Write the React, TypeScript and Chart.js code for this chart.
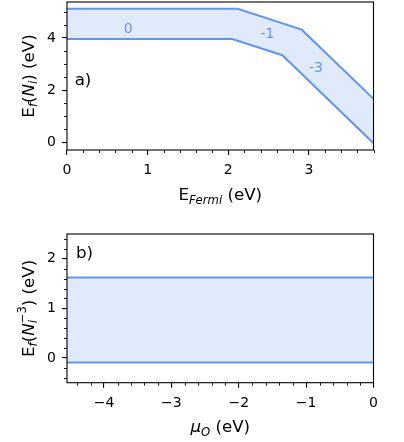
import React, { useEffect, useRef } from 'react';
import { Chart, registerables } from 'chart.js';

Chart.register(...registerables);

// ---------- Panel a) data ----------
const fermiUpper = [0, 2.115, 2.91, 3.8];
const formationUpper = [5.12, 5.12, 4.32, 1.67];
const fermiLower = [0, 2.05, 2.67, 3.8];
const formationLower = [3.96, 3.96, 3.34, -0.03];
const chargeLabels = ['0', '-1', '-3'];
const chargeLabelFermi = [0.76, 2.485, 3.086];
const chargeLabelEnergy = [4.37, 4.21, 2.88];
const fermiLimits = [0, 3.8];
const formationLimitsA = [-0.29, 5.38];
const fermiMajorTicks = [0, 1, 2, 3];
const formationMajorTicksA = [0, 2, 4];

// ---------- Panel b) data ----------
const muO = [-4.55, 0];
const formationTopB = [1.62, 1.62];
const formationBottomB = [-0.09, -0.09];
const muLimits = [-4.55, 0];
const formationLimitsB = [-0.5, 2.5];
const muMajorTicks = [-4, -3, -2, -1, 0];
const formationMajorTicksB = [0, 1, 2];

const W = 404;
const FONT = '"DejaVu Sans", "Liberation Sans", sans-serif';
const LINE = '#6495ED';
const FILL = 'rgba(100,149,237,0.2)';
const TITLE_SIZE = 16.67;
const TICK_SIZE = 14;

type Run = { t: string; it?: boolean; pos?: 'sub' | 'sup'; noAdv?: boolean };

interface Spec {
  height: number;
  area: { left: number; right: number; top: number; bottom: number };
  xLim: number[];
  yLim: number[];
  xTicks: number[];
  yTicks: number[];
  xMinorStep: number;
  yMinorStep: number;
  datasets: any[];
  xTitle: Run[];
  yTitle: Run[];
  xTitleBaseline: number;
  yTitleBaseline: number;
  letter: string;
  letterPos: number[]; // fractions of chart area (x from left, y from top)
  annotations?: { text: string; x: number; y: number }[];
}

const fmt = (v: number) => String(v).replace('-', '\u2212');

function runFont(r: Run) {
  const size = r.pos ? TITLE_SIZE * 0.7 : TITLE_SIZE;
  return `${r.it ? 'italic ' : ''}${size}px ${FONT}`;
}

function drawRuns(ctx: CanvasRenderingContext2D, runs: Run[]) {
  // draws centred at (0,0) with alphabetic baseline at y = 0
  let total = 0;
  const widths: number[] = [];
  for (const r of runs) {
    ctx.font = runFont(r);
    const w = ctx.measureText(r.t).width;
    widths.push(w);
    if (!r.noAdv) total += w;
  }
  let x = -total / 2;
  ctx.textAlign = 'left';
  ctx.textBaseline = 'alphabetic';
  runs.forEach((r, i) => {
    ctx.font = runFont(r);
    let dy = 0;
    if (r.pos === 'sub') dy = TITLE_SIZE * 0.22;
    if (r.pos === 'sup') dy = -TITLE_SIZE * 0.42;
    ctx.fillText(r.t, x, dy);
    if (!r.noAdv) x += widths[i];
  });
}

function minorValues(lim: number[], step: number, majorStep: number) {
  const out: number[] = [];
  const start = Math.ceil(lim[0] / step - 1e-9);
  const end = Math.floor(lim[1] / step + 1e-9);
  for (let k = start; k <= end; k++) {
    const v = k * step;
    const r = v / majorStep;
    if (Math.abs(r - Math.round(r)) > 1e-6) out.push(v);
  }
  return out;
}

const decorPlugin = {
  id: 'panelDecor',
  afterDraw(chart: any) {
    const spec: Spec = chart.options.plugins.panelDecor.spec;
    const ctx: CanvasRenderingContext2D = chart.ctx;
    const { left, right, top, bottom } = chart.chartArea;
    const xs = chart.scales.x;
    const ys = chart.scales.y;
    ctx.save();

    // annotations (charge states)
    if (spec.annotations) {
      ctx.fillStyle = LINE;
      ctx.font = `${TICK_SIZE}px ${FONT}`;
      ctx.textAlign = 'center';
      ctx.textBaseline = 'alphabetic';
      for (const a of spec.annotations) {
        ctx.fillText(a.text, xs.getPixelForValue(a.x), ys.getPixelForValue(a.y) + 0.3645 * TICK_SIZE);
      }
    }

    // panel letter
    ctx.fillStyle = '#000';
    ctx.font = `${TITLE_SIZE}px ${FONT}`;
    ctx.textAlign = 'left';
    ctx.textBaseline = 'alphabetic';
    ctx.fillText(spec.letter, left + spec.letterPos[0] * (right - left), top + spec.letterPos[1] * (bottom - top));

    // frame
    ctx.strokeStyle = '#000';
    ctx.lineWidth = 1.1;
    ctx.strokeRect(left, top, right - left, bottom - top);

    // minor ticks
    ctx.lineWidth = 0.9;
    ctx.beginPath();
    const xMajor = spec.xTicks[1] - spec.xTicks[0];
    const yMajor = spec.yTicks[1] - spec.yTicks[0];
    for (const v of minorValues(spec.xLim, spec.xMinorStep, xMajor)) {
      const p = Math.round(xs.getPixelForValue(v)) + 0.5;
      ctx.moveTo(p, bottom);
      ctx.lineTo(p, bottom + 3);
    }
    for (const v of minorValues(spec.yLim, spec.yMinorStep, yMajor)) {
      const p = Math.round(ys.getPixelForValue(v)) + 0.5;
      ctx.moveTo(left, p);
      ctx.lineTo(left - 3, p);
    }
    ctx.stroke();

    // axis titles
    ctx.fillStyle = '#000';
    ctx.save();
    ctx.translate((left + right) / 2, spec.xTitleBaseline);
    drawRuns(ctx, spec.xTitle);
    ctx.restore();
    ctx.save();
    ctx.translate(spec.yTitleBaseline, (top + bottom) / 2);
    ctx.rotate(-Math.PI / 2);
    drawRuns(ctx, spec.yTitle);
    ctx.restore();

    ctx.restore();
  },
};

function axis(lim: number[], ticks: number[], fit: (s: any) => void) {
  return {
    type: 'linear',
    min: lim[0],
    max: lim[1],
    afterBuildTicks: (s: any) => {
      s.ticks = ticks.map((v) => ({ value: v }));
    },
    afterFit: fit,
    grid: {
      display: true,
      drawOnChartArea: false,
      drawTicks: true,
      tickLength: 5,
      color: '#000',
      lineWidth: 1.1,
    },
    border: { display: false },
    ticks: {
      font: { family: FONT, size: TICK_SIZE },
      color: '#000',
      padding: 7,
      maxRotation: 0,
      minRotation: 0,
      autoSkip: false,
      callback: (v: number) => fmt(v),
    },
  };
}

function buildConfig(spec: Spec): any {
  const { area, height } = spec;
  const xAxis = axis(spec.xLim, spec.xTicks, (s: any) => {
    s.height = height - area.bottom;
    s.paddingLeft = 0;
    s.paddingRight = 0;
  });
  const yAxis = axis(spec.yLim, spec.yTicks, (s: any) => {
    s.width = area.left;
    s.paddingTop = 0;
    s.paddingBottom = 0;
  });
  (yAxis.ticks as any).padding = 6;
  return {
    type: 'line',
    data: { datasets: spec.datasets },
    options: {
      responsive: false,
      maintainAspectRatio: false,
      animation: false,
      devicePixelRatio: 1,
      events: [],
      layout: { padding: { left: 0, right: W - area.right, top: area.top, bottom: 0 } },
      plugins: {
        legend: { display: false },
        tooltip: { enabled: false },
        panelDecor: { spec },
      },
      elements: { point: { radius: 0 }, line: { tension: 0 } },
      scales: { x: xAxis, y: yAxis },
    },
    plugins: [decorPlugin],
  };
}

const toPoints = (xs: number[], ys: number[]) => xs.map((x, i) => ({ x, y: ys[i] }));

const specA: Spec = {
  height: 220,
  area: { left: 67, right: 373.5, top: 2, bottom: 150 },
  xLim: fermiLimits,
  yLim: formationLimitsA,
  xTicks: fermiMajorTicks,
  yTicks: formationMajorTicksA,
  xMinorStep: 0.2,
  yMinorStep: 0.5,
  datasets: [
    {
      data: toPoints(fermiUpper, formationUpper),
      borderColor: LINE,
      borderWidth: 2,
      backgroundColor: FILL,
      fill: '+1',
      pointRadius: 0,
    },
    {
      data: toPoints(fermiLower, formationLower),
      borderColor: LINE,
      borderWidth: 2,
      fill: false,
      pointRadius: 0,
    },
  ],
  xTitle: [{ t: 'E' }, { t: 'Fermi', it: true, pos: 'sub' }, { t: ' (eV)' }],
  yTitle: [
    { t: 'E' },
    { t: 'f', it: true, pos: 'sub' },
    { t: '(' },
    { t: 'N', it: true },
    { t: 'i', it: true, pos: 'sub' },
    { t: ')' },
    { t: ' (eV)' },
  ],
  xTitleBaseline: 200,
  yTitleBaseline: 33.5,
  letter: 'a)',
  letterPos: [0.025, 0.561],
  annotations: chargeLabels.map((t, i) => ({ text: t, x: chargeLabelFermi[i], y: chargeLabelEnergy[i] })),
};

const specB: Spec = {
  height: 222,
  area: { left: 67, right: 373.5, top: 14, bottom: 162.7 },
  xLim: muLimits,
  yLim: formationLimitsB,
  xTicks: muMajorTicks,
  yTicks: formationMajorTicksB,
  xMinorStep: 0.2,
  yMinorStep: 0.2,
  datasets: [
    {
      data: toPoints(muO, formationTopB),
      borderColor: LINE,
      borderWidth: 2,
      backgroundColor: FILL,
      fill: '+1',
      pointRadius: 0,
    },
    {
      data: toPoints(muO, formationBottomB),
      borderColor: LINE,
      borderWidth: 2,
      fill: false,
      pointRadius: 0,
    },
  ],
  xTitle: [{ t: '\u03bc', it: true }, { t: 'O', it: true, pos: 'sub' }, { t: ' (eV)' }],
  yTitle: [
    { t: 'E' },
    { t: 'f', it: true, pos: 'sub' },
    { t: '(' },
    { t: 'N', it: true },
    { t: 'i', it: true, pos: 'sub', noAdv: true },
    { t: '\u22123', pos: 'sup' },
    { t: ')' },
    { t: ' (eV)' },
  ],
  xTitleBaseline: 212,
  yTitleBaseline: 33.5,
  letter: 'b)',
  letterPos: [0.029, 0.16],
};

function Panel({ spec }: { spec: Spec }) {
  const ref = useRef<HTMLCanvasElement>(null);
  useEffect(() => {
    const chart = new Chart(ref.current as HTMLCanvasElement, buildConfig(spec));
    return () => chart.destroy();
  }, [spec]);
  return (
    <canvas
      ref={ref}
      width={W}
      height={spec.height}
      style={{ display: 'block', width: W, height: spec.height }}
    />
  );
}

export default function App() {
  return (
    <div style={{ position: 'absolute', left: 0, top: 0, width: W, height: 442, background: '#fff' }}>
      <Panel spec={specA} />
      <Panel spec={specB} />
    </div>
  );
}
